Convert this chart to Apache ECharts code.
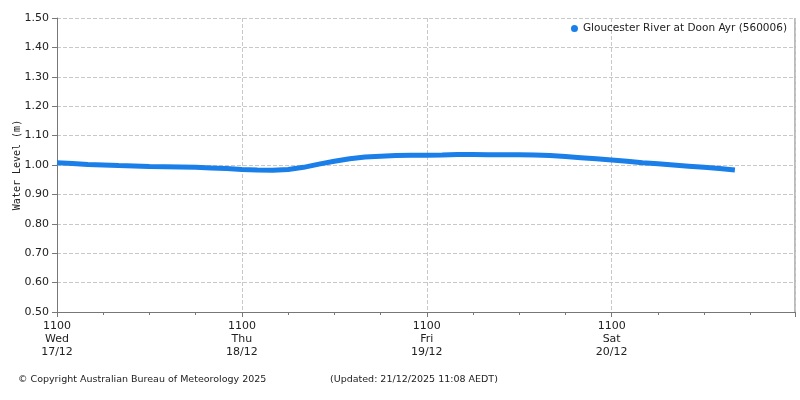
<!DOCTYPE html>
<html style="height: 100%">
<head><meta charset="utf-8"></head>
<body style="height: 100%; margin: 0">
<div id="container" style="width:800px;height:400px"></div>
<script src="https://cdn.jsdelivr.net/npm/echarts@6/dist/echarts.min.js"></script>
<script>
// hours since 11:00 17/12, every 2 hours
var stepHours = 2;
var levels = [1.008,1.005,1.002,1.000,0.998,0.997,0.995,0.994,0.993,0.992,0.990,0.988,0.985,0.983,0.982,0.985,
  0.992,1.003,1.013,1.021,1.027,1.030,1.032,1.033,1.033,1.034,1.036,1.036,1.035,1.035,1.035,1.034,1.032,
  1.029,1.025,1.021,1.017,1.013,1.008,1.004,1.000,0.996,0.992,0.988,0.983];
var dayLabels = ['1100\nWed\n17/12','1100\nThu\n18/12','1100\nFri\n19/12','1100\nSat\n20/12'];
var seriesName = 'Gloucester River at Doon Ayr (560006)';
var yTitle = 'Water Level (m)';

var pts = levels.map(function(v,i){ return [i*stepHours, v]; });
var font = 'DejaVu Sans';
var myChart = echarts.init(document.getElementById('container'));
var option = {
  animation:false,
  backgroundColor:'#fff',
  textStyle:{fontFamily:font},
  grid:{left:57,right:5,top:18,bottom:88,containLabel:false,outerBoundsMode:'none'},
  legend:{right:8,top:18,itemWidth:7,itemHeight:7,icon:'circle',itemGap:4,
    textStyle:{fontSize:10.5,color:'#222',fontFamily:font},data:[seriesName]},
  xAxis:{type:'value',min:0,max:95.8,interval:24,
    axisLine:{lineStyle:{color:'#777'}},
    axisTick:{length:5,lineStyle:{color:'#777'}},
    minorTick:{show:true,splitNumber:4,length:3,lineStyle:{color:'#777'}},
    splitLine:{show:true,lineStyle:{type:'dashed',color:'#c8c8c8'}},
    axisLabel:{color:'#222',fontSize:11,lineHeight:13,showMaxLabel:false,
      formatter:function(v){ return dayLabels[Math.round(v/24)] || ''; }}
  },
  yAxis:{type:'value',min:0.5,max:1.5,interval:0.1,
    axisLine:{show:true,lineStyle:{color:'#777'}},
    axisTick:{show:true,length:5,lineStyle:{color:'#777'}},
    splitLine:{lineStyle:{type:'dashed',color:'#c8c8c8'}},
    axisLabel:{color:'#222',fontSize:11,formatter:function(v){return v.toFixed(2);}}
  },
  graphic:[
    {type:'text',x:17,y:165,rotation:Math.PI/2,
      style:{text:yTitle,fontSize:10,fill:'#222',fontFamily:'DejaVu Sans Mono',align:'center',verticalAlign:'middle'}},
    {type:'text',left:18,top:375,style:{text:'© Copyright Australian Bureau of Meteorology 2025',fontSize:9.5,fill:'#222',fontFamily:font}},
    {type:'text',left:330,top:375,style:{text:'(Updated: 21/12/2025 11:08 AEDT)',fontSize:9.5,fill:'#222',fontFamily:font}},
    {type:'line',shape:{x1:795,y1:18,x2:795,y2:312},style:{stroke:'#777'}}
  ],
  series:[{name:seriesName,type:'line',data:pts,showSymbol:false,symbol:'circle',
    itemStyle:{color:'#1a7fe8'},lineStyle:{width:5,color:'#1a7fe8'}}]
};
myChart.setOption(option);
</script>
</body>
</html>
